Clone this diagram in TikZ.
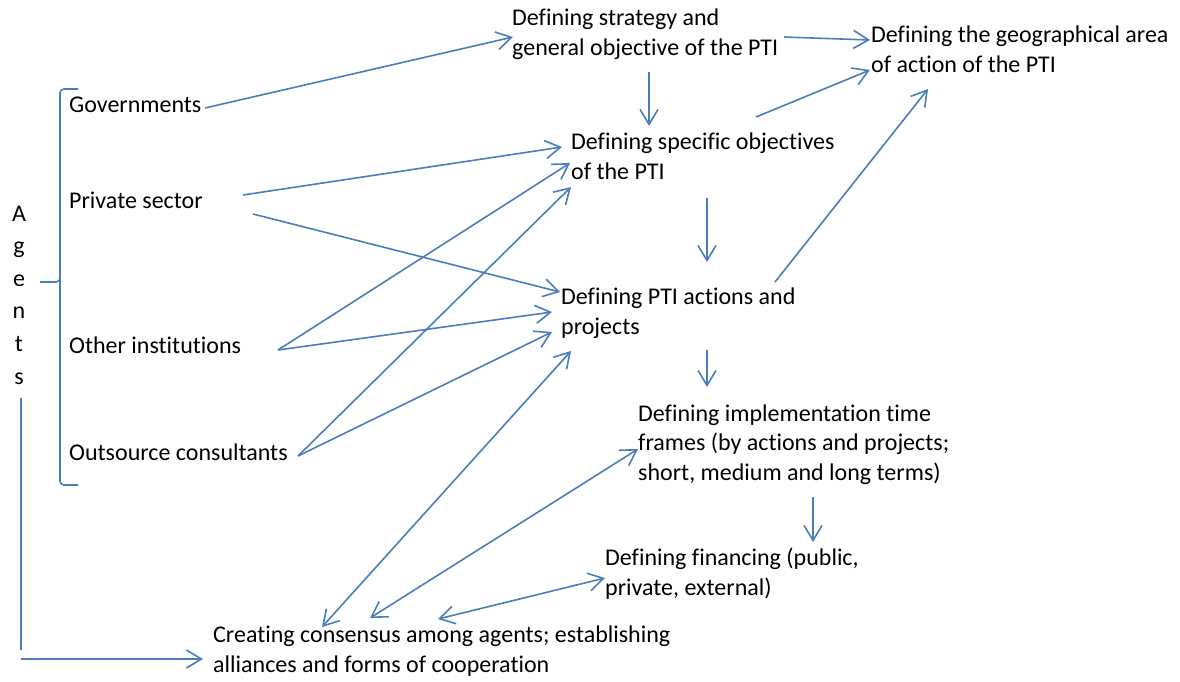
\documentclass[tikz,border=0pt]{standalone}
\usepackage{fontspec}
\setmainfont[Ligatures=NoCommon]{Carlito}
\usetikzlibrary{arrows.meta}
\definecolor{linkblue}{RGB}{74,126,187}
\begin{document}
\begin{tikzpicture}[x=1pt,y=-1pt,
  txt/.style={anchor=base west,inner sep=0pt,align=left,
    font=\fontsize{24}{29.5}\selectfont},
  link/.style={draw=linkblue,line width=1.6pt,
    >={Straight Barb[length=15pt,width=18pt]}},
  bracket/.style={draw=linkblue,line width=1.6pt,rounded corners=4pt}]
\useasboundingbox (0,0) rectangle (1180,681);

% text blocks (placed at the baseline of their last line)
\node[txt] (strat) at (512,55)  {Defining strategy and\\general objective of the PTI};
\node[txt] (geo)   at (871,72)  {Defining the geographical area\\of action of the PTI};
\node[txt] (gov)   at (69,112)  {Governments};
\node[txt] (priv)  at (69,208)  {Private sector};
\node[txt] (other) at (69,353)  {Other institutions};
\node[txt] (outs)  at (69,460)  {Outsource consultants};
\node[txt] (spec)  at (571,179) {Defining specific objectives\\of the PTI};
\node[txt] (act)   at (561,334) {Defining PTI actions and\\projects};
\node[txt] (impl)  at (638,480) {Defining implementation time\\frames (by actions and projects;\\short, medium and long terms)};
\node[txt] (fin)   at (605,595) {Defining financing (public,\\private, external)};
\node[txt] (cons)  at (213,672) {Creating consensus among agents; establishing\\alliances and forms of cooperation};
\node[anchor=base,inner sep=0pt,align=center,
  font=\fontsize{24}{32.6}\selectfont] (agents) at (19,384) {A\\g\\e\\n\\t\\s};

% bracket grouping the agents
\draw[bracket] (78,89) -- (60,89) -- (60,282) -- (40,282);
\draw[bracket] (60,270) -- (60,282) -- (60,485) -- (78,485);

% line from the agents down to the consensus step
\coordinate (bend) at (21,650);
\coordinate (feed) at (21,659);
\draw[link,line width=2pt] ([shift={(2,14)}]agents.base) -- (bend);
\draw[link,->] (feed) -- ([shift={(-10,-13)}]cons.base west);

% agents to objectives and actions
\draw[link,->] ([shift={(136,-4)}]gov.base west)  -- ([shift={(1,-18)}]strat.base west);
\draw[link,->] ([shift={(174,-13)}]priv.base west) -- ([shift={(-9,-32)}]spec.base west);
\draw[link,->] ([shift={(184,6)}]priv.base west)   -- ([shift={(-1,-42)}]act.base west);
\draw[link,->] ([shift={(209,-3)}]other.base west) -- ([shift={(-1,-16)}]spec.base west);
\draw[link,->] ([shift={(209,-3)}]other.base west) -- ([shift={(-9,-22)}]act.base west);
\draw[link,->] ([shift={(229,-4)}]outs.base west)  -- ([shift={(0,8)}]spec.base west);
\draw[link,->] ([shift={(229,-4)}]outs.base west)  -- ([shift={(-9,-2)}]act.base west);

% planning chain
\draw[link,->] ([shift={(272,-18)}]strat.base west) -- ([shift={(-1,-32)}]geo.base west);
\draw[link,->] ([shift={(137,17)}]strat.base west) -- ([shift={(78,-53)}]spec.base west);
\draw[link,->] ([shift={(185,-62)}]spec.base west) -- ([shift={(-1,-2)}]geo.base west);
\draw[link,->] ([shift={(136,19)}]spec.base west)  -- ([shift={(146,-72)}]act.base west);
\draw[link,->] ([shift={(214,-52)}]act.base west)  -- ([shift={(57,17)}]geo.base west);
\draw[link,->] ([shift={(146,16)}]act.base west)   -- ([shift={(69,-93)}]impl.base west);
\draw[link,->] ([shift={(175,17)}]impl.base west)  -- ([shift={(208,-53)}]fin.base west);

% consensus links
\draw[link,<->] ([shift={(109,-45)}]cons.base west) -- ([shift={(10,17)}]act.base west);
\draw[link,<->] ([shift={(157,-54)}]cons.base west) -- ([shift={(0,-31)}]impl.base west);
\draw[link,<->] ([shift={(225,-53)}]cons.base west) -- ([shift={(0,-17)}]fin.base west);
\end{tikzpicture}
\end{document}
